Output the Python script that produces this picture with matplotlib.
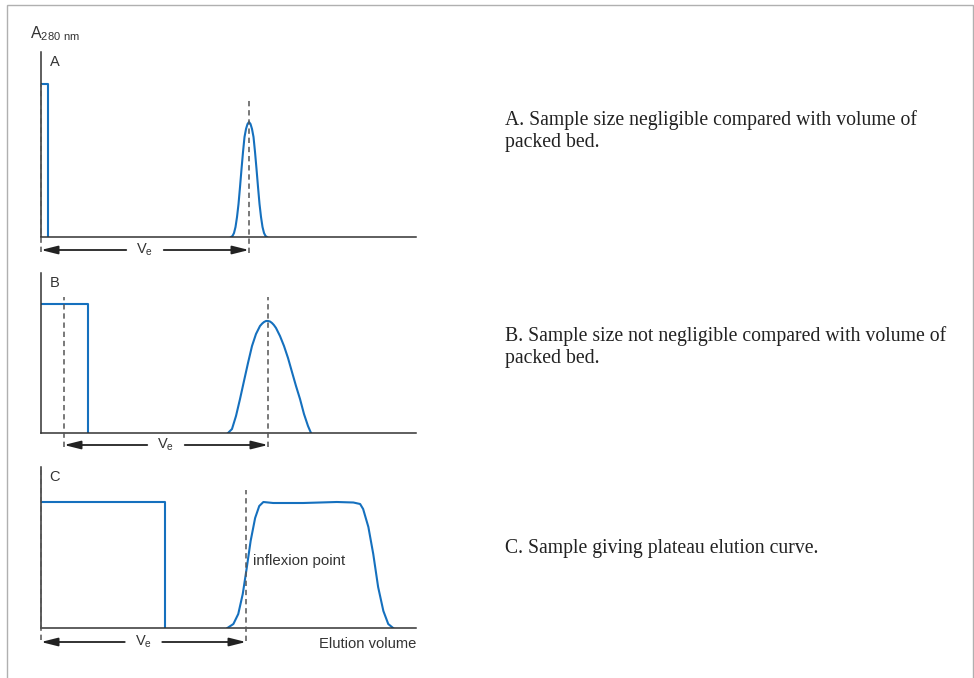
import matplotlib
matplotlib.use("Agg")
import matplotlib.pyplot as plt
from matplotlib.patches import Rectangle

# --- data (elution volume in arbitrary units 0-100, absorbance in arbitrary units)
# panel A: tiny sample, narrow peak
a_sample_end = 1.87
a_sample_height = 1.53
a_peak_x = [50.67, 51.07, 51.47, 51.87, 52.27, 52.67, 53.07, 53.47, 53.87, 54.27,
            54.67, 55.07, 55.47, 55.87, 56.27, 56.67, 57.07, 57.47, 57.87, 58.27,
            58.67, 59.07, 59.47, 59.87, 60.27]
a_peak_y = [0.0, 0.01, 0.04, 0.10, 0.20, 0.33, 0.50, 0.68, 0.85, 1.00,
            1.08, 1.13, 1.15, 1.13, 1.08, 1.00, 0.85, 0.68, 0.50, 0.33,
            0.20, 0.10, 0.04, 0.01, 0.0]
a_ve = 55.47

# panel B: larger sample, broader peak
b_sample_end = 12.53
b_sample_height = 1.29
b_sample_mid = 6.13
b_peak_x = [49.87, 50.93, 52.0, 53.07, 54.13, 55.2, 56.27, 57.33, 58.4, 59.0,
            59.47, 60.0, 60.53, 61.07, 61.6, 62.1, 62.67, 63.73, 64.8, 65.87,
            66.93, 68.0, 69.07, 70.13, 71.2, 72.0]
b_peak_y = [0.0, 0.04, 0.17, 0.34, 0.52, 0.70, 0.87, 0.99, 1.07, 1.095,
            1.11, 1.12, 1.12, 1.115, 1.10, 1.08, 1.05, 0.97, 0.87, 0.75,
            0.61, 0.47, 0.34, 0.19, 0.07, 0.0]
b_ve = 60.53

# panel C: plateau elution
c_sample_end = 33.07
c_sample_height = 1.26
c_curve_x = [49.7, 51.3, 52.6, 53.8, 54.9, 55.9, 57.1, 58.2, 59.3, 61.9, 65.5,
             69.9, 74.4, 78.9, 83.3, 85.1, 85.9, 87.3, 88.6, 89.9, 91.3, 92.6, 93.9]
c_curve_y = [0.0, 0.04, 0.14, 0.34, 0.61, 0.87, 1.10, 1.22, 1.26, 1.25, 1.25,
             1.25, 1.255, 1.26, 1.255, 1.24, 1.19, 1.01, 0.74, 0.41, 0.17, 0.04, 0.0]
c_ve = 54.67

captions = [
    "A. Sample size negligible compared with volume of\npacked bed.",
    "B. Sample size not negligible compared with volume of\npacked bed.",
    "C. Sample giving plateau elution curve.",
]

BLUE = "#1570be"
DARK = "#333333"
DASH = "#555555"
SANS = "Liberation Sans"
SERIF = "Liberation Serif"

W, H = 974, 678
fig = plt.figure(figsize=(W / 100, H / 100), dpi=100)


def px_axes(top, bottom):
    # axes box from pixel rows, shared x span 41..416
    return fig.add_axes([41 / W, 1 - bottom / H, 375 / W, (bottom - top) / H])


def style(ax, ymax, label):
    ax.set_xlim(0, 100)
    ax.set_ylim(0, ymax)
    ax.patch.set_alpha(0)
    for s in ["top", "right"]:
        ax.spines[s].set_visible(False)
    for s in ["left", "bottom"]:
        ax.spines[s].set_color(DARK)
        ax.spines[s].set_linewidth(1.1)
    ax.set_xticks([])
    ax.set_yticks([])
    ax.text(2.3, ymax - 0.03, label, fontsize=10.5, family=SANS, color=DARK,
            va="top", ha="left")


def vdash(ax, x, y0, y1):
    ax.plot([x, x], [y0, y1], ls=(0, (3.5, 2.5)), color=DASH, lw=1.1,
            clip_on=False, zorder=3)


def ve_arrow(ax, x0, x1, y):
    mid = (x0 + x1) / 2
    kw = dict(arrowstyle="-|>,head_length=1.0,head_width=0.25", color="#222222",
              lw=1.3, shrinkA=0, shrinkB=0)
    ax.annotate("", xy=(x0, y), xytext=(mid - 5, y), arrowprops=kw,
                annotation_clip=False)
    ax.annotate("", xy=(x1, y), xytext=(mid + 5, y), arrowprops=kw,
                annotation_clip=False)
    ax.text(mid, y, r"V$_\mathregular{e}$", fontsize=10.5, family=SANS,
            color=DARK, ha="center", va="center")


# panel A
ax = px_axes(52, 237)
style(ax, 1.85, "A")
ax.plot([0, a_sample_end, a_sample_end], [a_sample_height, a_sample_height, 0],
        color=BLUE, lw=1.5)
ax.plot(a_peak_x, a_peak_y, color=BLUE, lw=1.5)
vdash(ax, 0, -0.15, a_sample_height)
vdash(ax, a_ve, -0.16, 1.37)
ve_arrow(ax, 0, a_ve, -0.13)

# panel B
ax = px_axes(273, 433)
style(ax, 1.60, "B")
ax.plot([0, b_sample_end, b_sample_end], [b_sample_height, b_sample_height, 0],
        color=BLUE, lw=1.5)
ax.plot(b_peak_x, b_peak_y, color=BLUE, lw=1.5)
vdash(ax, b_sample_mid, -0.14, 1.36)
vdash(ax, b_ve, -0.14, 1.36)
ve_arrow(ax, b_sample_mid, b_ve, -0.12)

# panel C
ax = px_axes(467, 628)
style(ax, 1.61, "C")
ax.plot([0, c_sample_end, c_sample_end], [c_sample_height, c_sample_height, 0],
        color=BLUE, lw=1.5)
ax.plot(c_curve_x, c_curve_y, color=BLUE, lw=1.5)
vdash(ax, 0, -0.12, 1.58)
vdash(ax, c_ve, -0.13, 1.38)
ve_arrow(ax, 0, c_ve, -0.14)
ax.text(c_ve + 1.8, 0.67, "inflexion point", fontsize=10.8, family=SANS,
        color=DARK, ha="left", va="center")
ax.text(100, -0.16, "Elution volume", fontsize=10.6, family=SANS, color=DARK,
        ha="right", va="center")

# y-axis label
fig.text(30 / W, 1 - 34 / H, r"A$_\mathregular{280\ nm}$", fontsize=11.5,
         family=SANS, color=DARK, ha="left", va="center")

# captions
for cap, yc in zip(captions, [131, 347, 548]):
    fig.text(505 / W, 1 - yc / H, cap, fontsize=14.2, family=SERIF, color="#222222",
             ha="left", va="center", linespacing=1.17)

# frame round the figure
fig.patches.append(Rectangle((7 / W, -0.02), 966 / W, 1.02 - 5 / H,
                             transform=fig.transFigure, fill=False,
                             edgecolor="#b0b0b0", lw=1.0))

fig.savefig("out.png", dpi=100)
